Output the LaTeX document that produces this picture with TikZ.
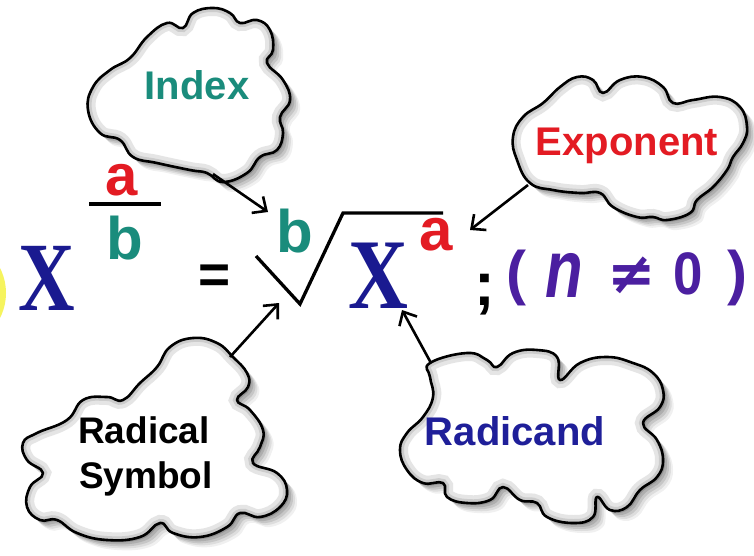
\documentclass[tikz,border=0pt]{standalone}
\usepackage{fontspec}
\setmainfont{Liberation Sans}
\newfontfamily\serifX{Liberation Serif}
\newfontfamily\dejavu{DejaVu Sans}
\usetikzlibrary{arrows.meta}
\definecolor{xblue}{HTML}{1A1A90}
\definecolor{tealc}{HTML}{1A8C7C}
\definecolor{redc}{HTML}{E31B23}
\definecolor{purp}{HTML}{4B1FA0}
\definecolor{radblue}{HTML}{1F1F99}
\definecolor{yel}{HTML}{F6F45E}
\tikzset{
  cloudA/.style={insert path={plot[smooth cycle, tension=0.75] coordinates {
 (130,58) (147,37) (167,23) (183,28) (193,13) (213,8) (230,13) (240,23)
 (257,20) (270,30) (273,50) (267,63) (283,80) (290,100) (280,117) (283,133)
 (277,150) (260,157) (247,173) (223,182) (207,173) (190,170) (157,163)
 (133,157) (120,140) (100,133) (88,110) (93,87) (110,70)}}},
  cloudB/.style={insert path={plot[smooth cycle, tension=0.75] coordinates {
 (530,183) (517,160) (513,137) (523,117) (543,103) (560,87) (577,77) (593,80)
 (603,93) (620,80) (643,77) (663,87) (673,103) (693,100) (720,97) (740,107)
 (747,127) (743,143) (733,157) (727,170) (713,187) (697,200) (690,213)
 (667,220) (653,217) (637,217) (613,207) (600,193) (580,193) (553,190)}}},
  cloudC/.style={insert path={plot[smooth cycle, tension=0.75] coordinates {
 (157,367) (170,347) (193,338) (217,343) (233,357) (247,373) (248,387)
 (237,400) (250,410) (263,430) (260,447) (253,463) (277,473) (287,490)
 (280,507) (260,517) (240,513) (227,527) (200,537) (173,533) (160,523)
 (140,537) (107,540) (77,533) (57,520) (40,520) (27,507) (30,487) (43,473)
 (27,460) (23,443) (37,433) (67,420) (83,400) (107,397) (123,400) (140,383)}}},
  cloudD/.style={insert path={plot[smooth cycle, tension=0.75] coordinates {
 (430,363) (467,353) (487,360) (497,367) (513,353) (537,350) (557,357)
 (560,380) (580,363) (607,357) (633,363) (653,373) (663,390) (660,407)
 (643,423) (657,440) (663,460) (657,477) (640,490) (627,507) (610,510)
 (597,497) (593,517) (573,523) (547,517) (537,503) (520,500) (503,487)
 (490,500) (467,503) (447,497) (443,483) (423,483) (407,470) (400,450)
 (407,433) (423,417) (433,397) (430,377)}}}
}
\newcommand\drawcloud[1]{%
  \foreach \s/\o in {2/0.14,4/0.12,6/0.10,8/0.08,10/0.06}
    \fill[black, opacity=\o, xshift=\s pt, yshift=-\s pt, #1];
  \fill[white, #1];
  \begin{scope}
    \clip[#1];
    \draw[black!10, line width=16pt, #1];
    \draw[black!20, line width=8pt, #1];
  \end{scope}
  \draw[black, line width=2.6pt, line join=round, #1];
}
\begin{document}
\begin{tikzpicture}[x=1pt,y=-1pt,
  glyph/.style={inner sep=0pt, outer sep=0pt},
  lbl/.style={inner sep=0pt, outer sep=0pt, anchor=base, font=\bfseries\fontsize{40}{40}\selectfont},
  arr/.style={line width=2.6pt, -{Straight Barb[length=11pt,width=20pt]}},
  radline/.style={line width=3.3pt, line join=miter}
]
\useasboundingbox (0,0) rectangle (754,556);
\clip (0,0) rectangle (754,556);
\fill[white] (0,0) rectangle (754,556);
\fill[yel] (-49,293) circle[radius=55pt];

% ---------- clouds ----------
\drawcloud{cloudA}
\drawcloud{cloudB}
\drawcloud{cloudC}
\drawcloud{cloudD}

% ---------- cloud labels ----------
\node[lbl, text=tealc] (tIndex) at (197,100) {Index};
\node[lbl, text=redc] (tExp) at (627,156) {Exponent};
\node[lbl, font=\bfseries\fontsize{37}{37}\selectfont] (tRad) at (144,443) {Radical};
\node[lbl, font=\bfseries\fontsize{37}{37}\selectfont] (tSym) at (146,488) {Symbol};
\node[lbl, text=radblue] (tRadicand) at (515,445) {Radicand};

% ---------- formula ----------
\node[glyph, text=xblue, font=\serifX\bfseries\fontsize{98}{98}\selectfont] (X1) at (47,278) {\scalebox{0.8}[1]{X}};
\node[glyph, text=redc, font=\bfseries\fontsize{58}{58}\selectfont] (fa) at (122,180) {a};
\draw[line width=4pt] (89,204) -- (161,204);
\node[glyph, text=tealc, font=\bfseries\fontsize{60}{60}\selectfont] (fb) at (125,238) {b};
\node[glyph, font=\bfseries\fontsize{55}{55}\selectfont] (eq) at (215,279) {=};

\draw[radline] (256,256) -- (300,304) -- (343,213) -- (443,213);
\node[glyph, text=tealc, font=\bfseries\fontsize{60}{60}\selectfont] (ib) at (295,231) {b};
\node[glyph, text=xblue, font=\serifX\bfseries\fontsize{100}{100}\selectfont] (X2) at (378,276) {\scalebox{0.83}[1]{X}};
\node[glyph, text=redc, font=\bfseries\fontsize{60}{60}\selectfont] (ea) at (436,235) {a};

\node[glyph, font=\bfseries\fontsize{62}{62}\selectfont] (semi) at (485,295) {;};
\node[glyph, text=purp, font=\bfseries\fontsize{60}{60}\selectfont] (lp) at (516,278) {(};
\node[glyph, text=purp, font=\bfseries\itshape\fontsize{82}{82}\selectfont] (nn) at (564,275) {\scalebox{0.75}[1]{n}};
\node[glyph, text=purp, font=\dejavu\bfseries\fontsize{58}{58}\selectfont] (ne) at (632,275) {≠};
\node[glyph, text=purp, font=\bfseries\fontsize{60}{60}\selectfont] (zero) at (688,274) {\scalebox{0.88}[1]{0}};
\node[glyph, text=purp, font=\bfseries\fontsize{60}{60}\selectfont] (rp) at (737,278) {)};

% ---------- connectors ----------
\coordinate (idxS) at (213,174);
\coordinate (idxT) at (268,212);
\coordinate (expS) at (528,185);
\coordinate (expT) at (470,230);
\coordinate (radS) at (230,357);
\coordinate (radT) at (279,303);
\coordinate (rcS) at (431,363);
\coordinate (rcT) at (402,310);
\draw[arr] (idxS) -- (idxT);
\draw[arr] (expS) -- (expT);
\draw[arr] (radS) -- (radT);
\draw[arr] (rcS) -- (rcT);
\end{tikzpicture}
\end{document}
